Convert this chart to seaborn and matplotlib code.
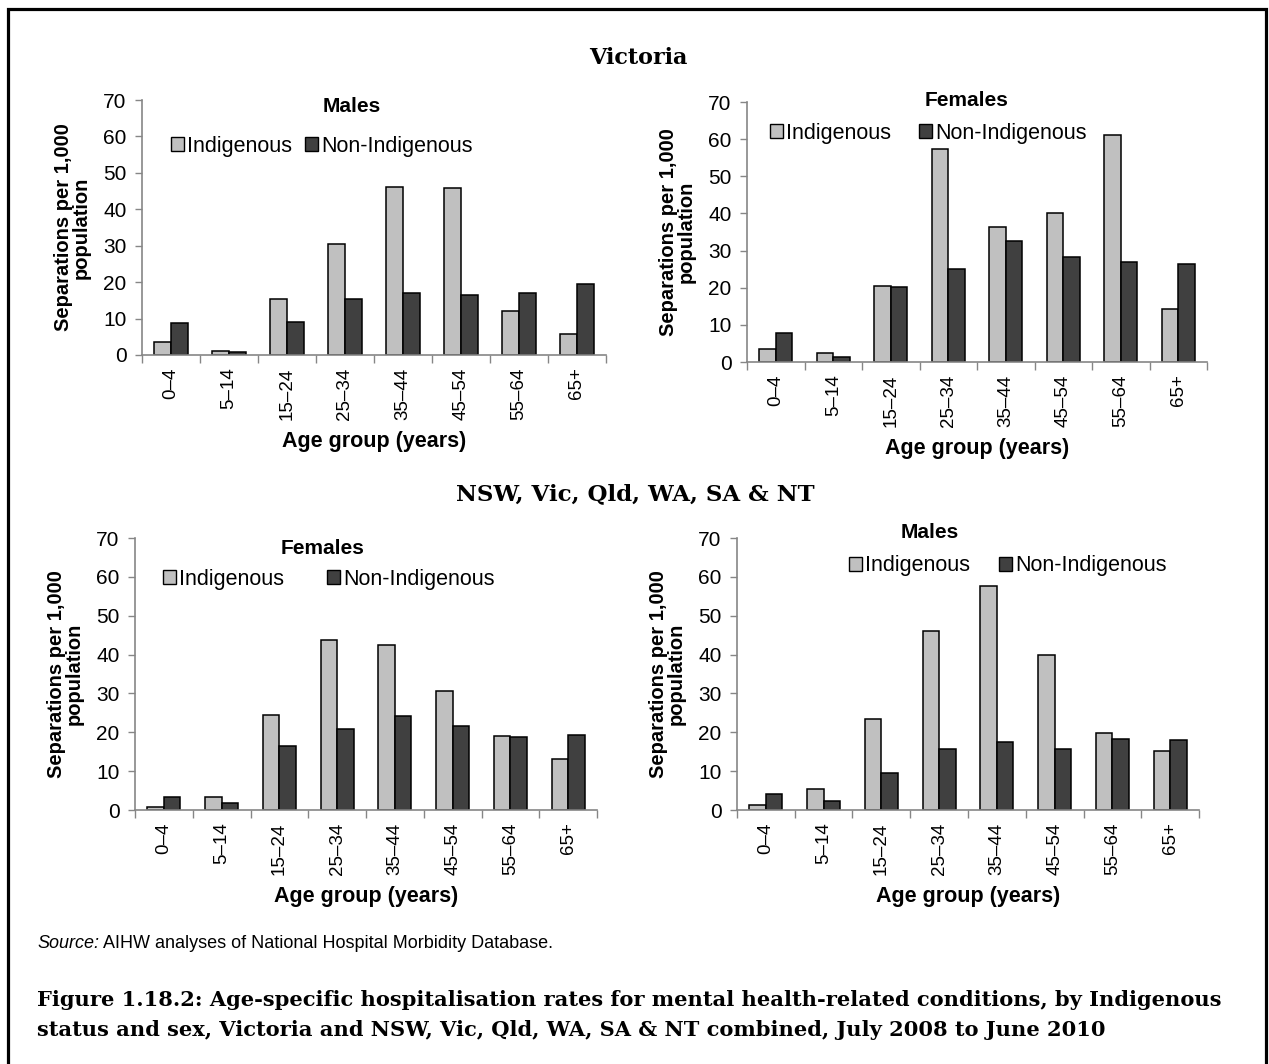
import matplotlib
matplotlib.use("Agg")
import matplotlib.pyplot as plt
from matplotlib.patches import Patch, Rectangle
import pandas as pd
import seaborn as sns

# Age groups and series
age_groups = ["0–4", "5–14", "15–24", "25–34", "35–44", "45–54", "55–64", "65+"]
statuses = ["Indigenous", "Non-Indigenous"]

# Victoria
vic_males_indig = [3.7, 1.1, 15.4, 30.6, 46.2, 45.8, 12.2, 5.9]
vic_males_non = [8.9, 0.7, 9.1, 15.4, 17.0, 16.5, 17.0, 19.5]
vic_females_indig = [3.6, 2.4, 20.4, 57.3, 36.3, 40.2, 61.0, 14.4]
vic_females_non = [7.9, 1.4, 20.1, 25.1, 32.5, 28.2, 26.8, 26.4]

# NSW, Vic, Qld, WA, SA & NT combined
all_females_indig = [0.9, 3.4, 24.4, 43.8, 42.4, 30.6, 19.0, 13.2]
all_females_non = [3.4, 1.8, 16.4, 20.8, 24.3, 21.6, 18.8, 19.3]
all_males_indig = [1.2, 5.3, 23.5, 46.0, 57.6, 39.9, 19.9, 15.2]
all_males_non = [4.1, 2.3, 9.6, 15.8, 17.6, 15.7, 18.4, 18.0]

sns.set_theme(style="white")
plt.rcParams["font.family"] = ["Liberation Sans", "DejaVu Sans"]
plt.rcParams["text.color"] = "black"
plt.rcParams["axes.labelcolor"] = "black"
plt.rcParams["xtick.labelcolor"] = "black"
plt.rcParams["ytick.labelcolor"] = "black"

W, H = 1269, 1064
fig = plt.figure(figsize=(W / 100, H / 100), dpi=100)

LIGHT = "#c0c0c0"
DARK = "#404040"
AXIS = "#868686"


def fx(px):
    return px / W


def fy(py):
    return 1 - py / H


def make_frame(indig, non):
    return pd.DataFrame({
        "age": age_groups * 2,
        "rate": list(indig) + list(non),
        "status": [statuses[0]] * len(age_groups) + [statuses[1]] * len(age_groups),
    })


def panel(box, indig, non, title, title_xy, legend_xy, colspace):
    left, top, right, bottom = box
    ax = fig.add_axes([fx(left), fy(bottom), fx(right - left), (bottom - top) / H])
    df = make_frame(indig, non)
    sns.barplot(data=df, x="age", y="rate", hue="status", order=age_groups,
                hue_order=statuses, palette=[LIGHT, DARK], edgecolor="black",
                linewidth=1.1, width=0.57, saturation=1, legend=False, ax=ax)
    ax.set_xlim(-0.5, len(age_groups) - 0.5)
    ax.set_ylim(0, 70)
    ax.set_yticks(range(0, 71, 10))
    ax.tick_params(axis="y", labelsize=15, length=5, width=1, color=AXIS,
                   direction="out", left=True, pad=6, labelcolor="black")
    ax.set_xticks(range(len(age_groups)))
    ax.set_xticklabels(age_groups, rotation=90, fontsize=13.5)
    ax.tick_params(axis="x", which="major", length=0, pad=9, labelcolor="black")
    ax.set_xticks([i + 0.5 for i in range(-1, len(age_groups))], minor=True)
    ax.tick_params(axis="x", which="minor", length=6, width=1, color=AXIS,
                   direction="out", bottom=True)
    for s in ["top", "right"]:
        ax.spines[s].set_visible(False)
    for s in ["left", "bottom"]:
        ax.spines[s].set_color(AXIS)
        ax.spines[s].set_linewidth(1.2)
    ax.set_ylabel("Separations per 1,000\npopulation", fontsize=14.5,
                  fontweight="bold", labelpad=9, linespacing=0.95, color="black")
    ax.set_xlabel("Age group (years)", fontsize=15.5, fontweight="bold",
                  labelpad=8, color="black")
    fig.text(fx(title_xy[0]), fy(title_xy[1]), title, fontsize=15,
             fontweight="bold", ha="center", va="center", color="black")
    handles = [Patch(facecolor=LIGHT, edgecolor="black", linewidth=1),
               Patch(facecolor=DARK, edgecolor="black", linewidth=1)]
    leg = ax.legend(handles, statuses, loc="center left",
                    bbox_to_anchor=(fx(legend_xy[0]), fy(legend_xy[1])),
                    bbox_transform=fig.transFigure, ncol=2, frameon=False,
                    fontsize=15.5, handlelength=0.6, handleheight=0.6,
                    handletextpad=0.15, columnspacing=colspace, borderpad=0,
                    borderaxespad=0)
    for t in leg.get_texts():
        t.set_color("black")
    return ax


panel((142, 100, 606, 355), vic_males_indig, vic_males_non, "Males",
      (352, 107), (171, 146), 0.6)
panel((747, 102, 1207, 362), vic_females_indig, vic_females_non, "Females",
      (967, 100), (770, 133), 1.3)
panel((135, 538, 597, 810), all_females_indig, all_females_non, "Females",
      (323, 548), (163, 579), 2.0)
panel((737, 538, 1199, 810), all_males_indig, all_males_non, "Males",
      (930, 532), (849, 566), 1.35)

# Section headings
serif = ["DejaVu Serif", "Liberation Serif"]
fig.text(fx(638), fy(58), "Victoria", family=serif, fontsize=16,
         fontweight="bold", ha="center", va="center")
fig.text(fx(635), fy(494), "NSW, Vic, Qld, WA, SA & NT", family=serif,
         fontsize=16.5, fontweight="bold", ha="center", va="center")

# Source note: italic lead-in followed by the plain text
src_lead = fig.text(fx(37), fy(944), "Source:", fontsize=13, style="italic",
                    ha="left", va="center")
fig.canvas.draw()
lead_box = src_lead.get_window_extent(renderer=fig.canvas.get_renderer())
fig.text(fx(lead_box.x1 + 4), fy(944),
         "AIHW analyses of National Hospital Morbidity Database.",
         fontsize=13, ha="left", va="center")

# Figure caption
fig.text(fx(37), fy(1000),
         "Figure 1.18.2: Age-specific hospitalisation rates for mental health-related conditions, by Indigenous",
         family=serif, fontsize=15.1, fontweight="bold", ha="left", va="center")
fig.text(fx(37), fy(1030),
         "status and sex, Victoria and NSW, Vic, Qld, WA, SA & NT combined, July 2008 to June 2010",
         family=serif, fontsize=15.1, fontweight="bold", ha="left", va="center")

# Outer frame
fig.patches.append(Rectangle((fx(8), fy(1080)), fx(1258), (1080 - 9) / H,
                             transform=fig.transFigure, fill=False,
                             edgecolor="black", linewidth=2.3))

fig.savefig("out.png", dpi=100)
